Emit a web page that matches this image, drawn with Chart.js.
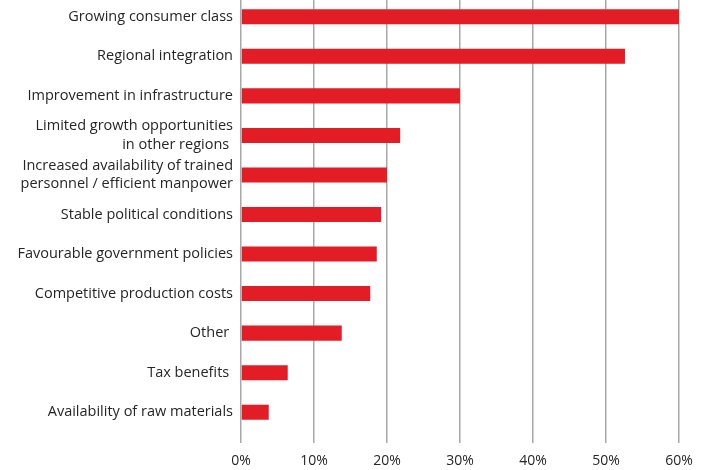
<!DOCTYPE html>
<html>
<head>
<meta charset="utf-8">
<script src="https://cdn.jsdelivr.net/npm/chart.js@4"></script>
<style>
  html, body { margin: 0; padding: 0; background: #fff; overflow: hidden; }
  #wrap { position: absolute; left: 0; top: -3px; width: 708px; height: 473px; }
</style>
</head>
<body>
<div id="wrap"><canvas id="chart"></canvas></div>
<script>
// Reasons for investing, share of respondents (%)
const categories = [
  "Growing consumer class",
  "Regional integration",
  "Improvement in infrastructure",
  ["Limited growth opportunities", "in other regions "],
  ["Increased availability of trained", "personnel / efficient manpower"],
  "Stable political conditions",
  "Favourable government policies",
  "Competitive production costs",
  "Other ",
  "Tax benefits ",
  "Availability of raw materials"
];
const shares = [60, 52.6, 30, 21.8, 20, 19.2, 18.6, 17.7, 13.8, 6.4, 3.8];
const xTicks = [0, 10, 20, 30, 40, 50, 60];

const fontFamily = "'Open Sans', 'Noto Sans', sans-serif";

new Chart(document.getElementById('chart'), {
  type: 'bar',
  data: {
    labels: categories,
    datasets: [{
      data: shares,
      backgroundColor: '#e31d25',
      borderWidth: 0,
      categoryPercentage: 1,
      barPercentage: 0.38
    }]
  },
  options: {
    indexAxis: 'y',
    responsive: true,
    maintainAspectRatio: false,
    animation: false,
    layout: { padding: { top: 0, right: 29, bottom: 0, left: 0 } },
    plugins: { legend: { display: false }, tooltip: { enabled: false } },
    scales: {
      x: {
        min: 0,
        max: 60,
        afterBuildTicks: s => { s.ticks = xTicks.map(v => ({ value: v })); },
        afterFit: s => { s.height = 38; },
        border: { display: false },
        grid: {
          color: '#a8a8a8',
          lineWidth: 1.5,
          drawTicks: true,
          tickLength: 11,
          tickColor: '#a8a8a8',
          tickWidth: 1.5
        },
        ticks: {
          padding: 10,
          color: '#262626',
          font: { family: fontFamily, size: 14 },
          callback: v => v + '%'
        }
      },
      y: {
        afterFit: s => { s.width = 241; s.paddingTop = 0; s.paddingBottom = 0; },
        border: { display: false },
        grid: { display: false, drawTicks: false },
        ticks: {
          padding: 8,
          color: '#262626',
          autoSkip: false,
          font: { family: fontFamily, size: 14.5, lineHeight: 1.25 }
        }
      }
    }
  }
});
</script>
</body>
</html>
